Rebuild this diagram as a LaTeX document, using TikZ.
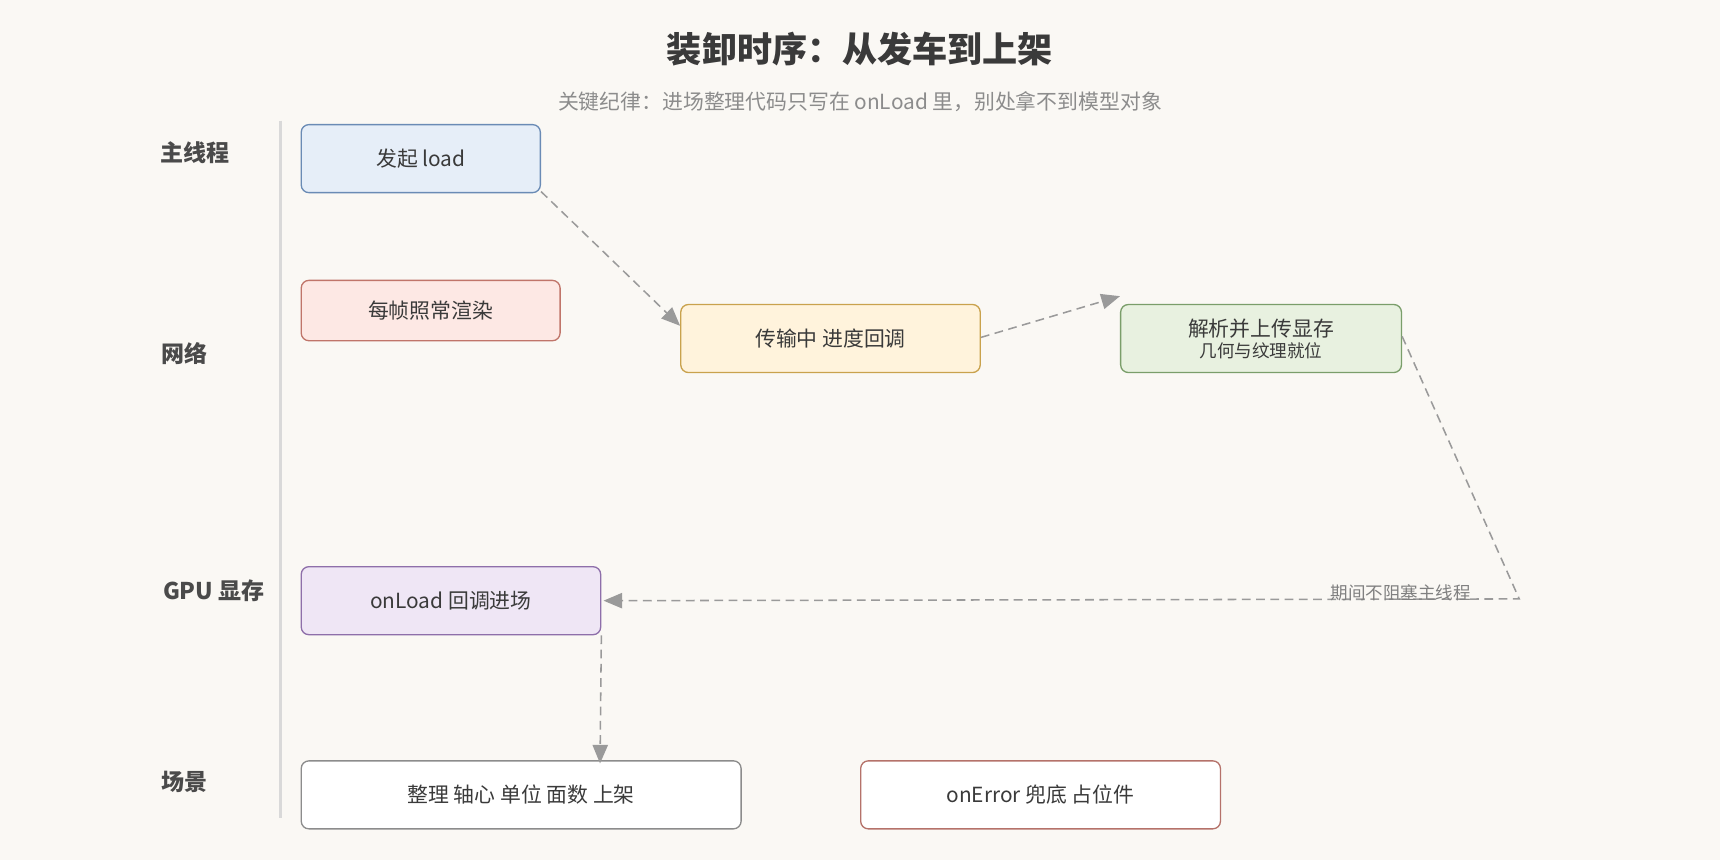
\documentclass[tikz,border=0pt]{standalone}
\usepackage{fontspec}
\setmainfont{Noto Sans CJK SC}
\usetikzlibrary{arrows.meta}
\definecolor{bg}{HTML}{FAF8F4}
\definecolor{ink}{HTML}{3A3A3A}
\definecolor{lane}{HTML}{4A4A4A}
\definecolor{arr}{HTML}{9A9A9A}
\definecolor{afill}{HTML}{E6EEF8}
\begin{document}
\begin{tikzpicture}[x=1pt,y=-1pt,
  box/.style={draw, rounded corners=7pt, line width=1.2pt, inner sep=0pt, anchor=north west, align=center, text=ink, font=\fontsize{19}{22}\selectfont},
  lanel/.style={font=\bfseries\fontsize{21}{24}\selectfont, text=lane},
  con/.style={draw=arr, line width=1.4pt, dash pattern=on 8pt off 5pt, -{Triangle[length=17pt,width=14pt]}},
]
\fill[bg] (0,0) rectangle (1568,784);
\useasboundingbox (0,0) rectangle (1568,784);
\node[font=\bfseries\fontsize{32}{36}\selectfont, text=ink] (t) at (784,45) {装卸时序：从发车到上架};
\node[font=\fontsize{19}{22}\selectfont, text=black!45] (st) at (784,93) {关键纪律：进场整理代码只写在 onLoad 里，别处拿不到模型对象};
\draw[black!15, line width=2.5pt] (256,110) -- (256,746);
\node[lanel] (l1) at (178,139) {主线程};
\node[lanel] (l2) at (168,322) {网络};
\node[lanel] (l3) at (195,539) {GPU 显存};
\node[lanel] (l4) at (168,713) {场景};
\node[box, fill=afill, draw={rgb,255:red,106;green,139;blue,181}, minimum width=218pt, minimum height=62pt] (A) at (274,113) {发起 load};
\node[box, fill={rgb,255:red,253;green,232;blue,228}, draw={rgb,255:red,192;green,117;blue,106}, minimum width=236pt, minimum height=55pt] (B) at (274,255) {每帧照常渲染};
\node[box, fill={rgb,255:red,255;green,243;blue,220}, draw={rgb,255:red,201;green,162;blue,77}, minimum width=273pt, minimum height=62pt] (C) at (620,277) {传输中 进度回调};
\node[box, fill={rgb,255:red,232;green,241;blue,224}, draw={rgb,255:red,122;green,158;blue,106}, minimum width=256pt, minimum height=62pt] (D) at (1021,277) {解析并上传显存\\[-3pt]{\fontsize{16}{19}\selectfont 几何与纹理就位}};
\node[box, fill={rgb,255:red,239;green,230;blue,245}, draw={rgb,255:red,142;green,111;blue,170}, minimum width=273pt, minimum height=62pt] (E) at (274,516) {onLoad 回调进场};
\node[box, fill=white, draw=black!45, minimum width=401pt, minimum height=62pt] (F) at (274,693) {整理 轴心 单位 面数 上架};
\node[box, fill=white, draw={rgb,255:red,181;green,114;blue,106}, minimum width=328pt, minimum height=62pt] (G) at (784,693) {onError 兜底 占位件};
\coordinate (k) at (1385,546);
\draw[con] ([yshift=-30pt]A.east) -- ([yshift=-20pt]C.north west);
\draw[con] ([yshift=1pt]C.east) -- ([yshift=7pt]D.north west);
\draw[con] ([yshift=2pt]D.east) -- (k) -- ([xshift=2pt]E.east);
\draw[con] (E.south east) -- ([xshift=273pt,yshift=-3pt]F.north west);
\node[font=\fontsize{16}{19}\selectfont, text=black!50] (lb) at (1277,540) {期间不阻塞主线程};
\end{tikzpicture}
\end{document}
